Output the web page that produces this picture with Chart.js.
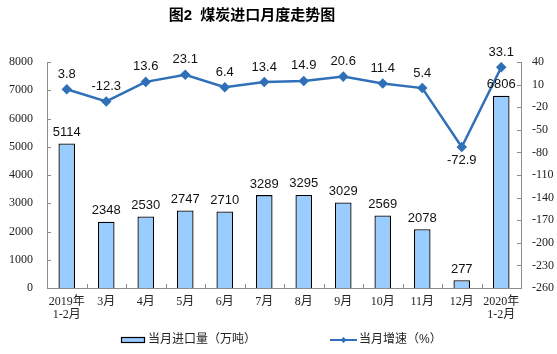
<!DOCTYPE html>
<html>
<head>
<meta charset="utf-8">
<script src="https://cdn.jsdelivr.net/npm/chart.js@4.4.0/dist/chart.umd.min.js"></script>
<style>
  html, body { margin: 0; padding: 0; background: #fff; }
  #wrap { width: 557px; height: 354px; position: relative; }
</style>
</head>
<body>
<div id="wrap"><canvas id="coalChart" width="557" height="354"></canvas></div>
<script>
// 煤炭进口月度走势 (2019年1-2月 ~ 2020年1-2月)
const months = [["2019年", "1-2月"], "3月", "4月", "5月", "6月", "7月", "8月", "9月", "10月", "11月", "12月", ["2020年", "1-2月"]];
const importVolume = [5114, 2348, 2530, 2747, 2710, 3289, 3295, 3029, 2569, 2078, 277, 6806];
const growthRate = [3.8, -12.3, 13.6, 23.1, 6.4, 13.4, 14.9, 20.6, 11.4, 5.4, -72.9, 33.1];

const titleText = "图2  煤炭进口月度走势图";
const barLegend = "当月进口量（万吨）";
const lineLegend = "当月增速（%）";

const BAR_FILL = "#99CCFF";
const LINE_BLUE = "#2F70B8";
const AXIS_GREY = "#8c8c8c";
const CJK = "'Liberation Sans', 'Noto Sans CJK SC', sans-serif";
const SERIF = "'Liberation Serif', 'Noto Sans CJK SC', serif";

// title, value labels, inner tick marks and legend
const decorations = {
    id: "decorations",
    afterDraw(chart) {
        const ctx = chart.ctx;
        const area = chart.chartArea;
        const x = chart.scales.x, y = chart.scales.y, y1 = chart.scales.y1;
        ctx.save();

        // inner tick marks
        ctx.strokeStyle = AXIS_GREY;
        ctx.lineWidth = 1;
        ctx.beginPath();
        y.ticks.forEach(t => {
            const py = Math.round(y.getPixelForValue(t.value)) + 0.5;
            ctx.moveTo(area.left, py); ctx.lineTo(area.left + 4, py);
        });
        y1.ticks.forEach(t => {
            const py = Math.round(y1.getPixelForValue(t.value)) + 0.5;
            ctx.moveTo(area.right - 4, py); ctx.lineTo(area.right, py);
        });
        const step = x.getPixelForValue(1) - x.getPixelForValue(0);
        for (let i = 0; i <= months.length; i++) {
            const px = Math.round(x.getPixelForValue(0) - step / 2 + i * step) + 0.5;
            ctx.moveTo(px, area.bottom); ctx.lineTo(px, area.bottom - 4);
        }
        ctx.stroke();

        // title
        ctx.fillStyle = "#000";
        ctx.font = "bold 15px " + CJK;
        ctx.textAlign = "center";
        ctx.textBaseline = "middle";
        ctx.fillText(titleText, 252, 16);

        // value labels
        ctx.font = "13px 'Liberation Sans', Arial, sans-serif";
        ctx.fillStyle = "#111";
        chart.getDatasetMeta(0).data.forEach((bar, i) => {
            ctx.fillText(String(importVolume[i]), bar.x, bar.y - 11);
        });
        const minRate = Math.min(...growthRate);
        chart.getDatasetMeta(1).data.forEach((pt, i) => {
            const off = growthRate[i] === minRate ? -13 : 15;
            ctx.fillText(growthRate[i].toFixed(1), pt.x, pt.y - off);
        });

        // legend
        const ly = 340;
        ctx.fillStyle = BAR_FILL;
        ctx.fillRect(121, ly - 3, 24, 6);
        ctx.strokeStyle = "#000";
        ctx.lineWidth = 1.2;
        ctx.strokeRect(121.5, ly - 2.5, 23, 5);
        ctx.fillStyle = "#222";
        ctx.font = "12px " + CJK;
        ctx.textAlign = "left";
        ctx.fillText(barLegend, 148, ly);

        ctx.strokeStyle = LINE_BLUE;
        ctx.lineWidth = 2;
        ctx.beginPath();
        ctx.moveTo(330, ly); ctx.lineTo(357, ly);
        ctx.stroke();
        ctx.fillStyle = LINE_BLUE;
        ctx.beginPath();
        ctx.moveTo(343.5, ly - 3); ctx.lineTo(346.5, ly); ctx.lineTo(343.5, ly + 3); ctx.lineTo(340.5, ly);
        ctx.closePath();
        ctx.fill();
        ctx.fillStyle = "#222";
        ctx.fillText(lineLegend, 359, ly);

        ctx.restore();
    }
};

new Chart(document.getElementById("coalChart").getContext("2d"), {
    type: "bar",
    data: {
        labels: months,
        datasets: [
            {
                type: "bar",
                label: barLegend,
                data: importVolume,
                yAxisID: "y",
                backgroundColor: BAR_FILL,
                borderColor: "#000",
                borderWidth: 1.3,
                barPercentage: 0.42,
                categoryPercentage: 1,
                order: 2
            },
            {
                type: "line",
                label: lineLegend,
                data: growthRate,
                yAxisID: "y1",
                borderColor: LINE_BLUE,
                backgroundColor: LINE_BLUE,
                borderWidth: 2.5,
                pointStyle: "rectRot",
                pointRadius: 3.5,
                tension: 0,
                order: 1
            }
        ]
    },
    options: {
        responsive: false,
        animation: false,
        layout: { padding: { top: 62, left: 0, right: 0, bottom: 0 } },
        plugins: {
            legend: { display: false },
            title: { display: false },
            tooltip: { enabled: false }
        },
        scales: {
            x: {
                grid: { display: false, drawTicks: false },
                border: { display: true, color: AXIS_GREY },
                ticks: {
                    padding: 8,
                    maxRotation: 0,
                    autoSkip: false,
                    color: "#222",
                    font: { family: SERIF, size: 12, lineHeight: 1.05 }
                },
                afterFit(scale) { scale.height = 66; }
            },
            y: {
                position: "left",
                min: 0,
                max: 8000,
                grid: { display: false, drawTicks: false },
                border: { display: true, color: AXIS_GREY },
                ticks: {
                    stepSize: 1000,
                    padding: 14,
                    color: "#222",
                    font: { family: SERIF, size: 12 },
                    callback: v => String(v)
                },
                afterFit(scale) { scale.width = 47; }
            },
            y1: {
                position: "right",
                min: -260,
                max: 40,
                grid: { display: false, drawTicks: false },
                border: { display: true, color: AXIS_GREY },
                ticks: {
                    stepSize: 30,
                    padding: 11,
                    color: "#222",
                    font: { family: SERIF, size: 12 },
                    callback: v => String(v)
                },
                afterFit(scale) { scale.width = 36; }
            }
        }
    },
    plugins: [decorations]
});
</script>
</body>
</html>
